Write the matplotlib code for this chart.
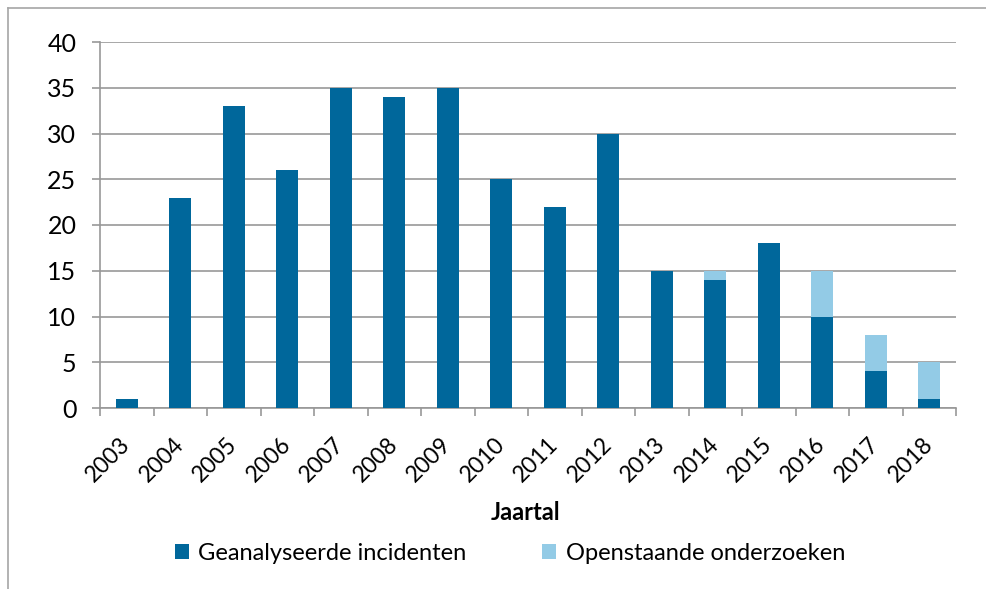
import matplotlib
matplotlib.use("Agg")
import matplotlib.pyplot as plt
from matplotlib.lines import Line2D
import numpy as np

years = ["2003", "2004", "2005", "2006", "2007", "2008", "2009", "2010",
         "2011", "2012", "2013", "2014", "2015", "2016", "2017", "2018"]
analysed = [1, 23, 33, 26, 35, 34, 35, 25, 22, 30, 15, 14, 18, 10, 4, 1]
open_cases = [0, 0, 0, 0, 0, 0, 0, 0, 0, 0, 0, 1, 0, 5, 4, 4]

dark = "#00679B"
light = "#93CBE6"
grey = "#989898"

plt.rcParams["font.family"] = ["Lato", "DejaVu Sans"]

fig = plt.figure(figsize=(9.87, 5.89), dpi=100)
ax = fig.add_axes([100 / 987, 1 - 408 / 589, 856 / 987, 366 / 589])

x = np.arange(len(years))
ax.bar(x, analysed, width=0.41, color=dark, zorder=3,
       label="Geanalyseerde incidenten")
ax.bar(x, open_cases, width=0.41, bottom=analysed, color=light, zorder=3,
       label="Openstaande onderzoeken")

ax.set_xlim(-0.5, len(years) - 0.5)
ax.set_ylim(0, 40)
ax.set_yticks(range(0, 41, 5))
ax.yaxis.grid(True, color=grey, linewidth=1.2, zorder=0)

ax.set_xticks(x)
ax.set_xticklabels(years, rotation=45, ha="right", va="center",
                   rotation_mode="anchor")
ax.set_xticks(np.arange(-0.5, len(years)), minor=True)
ax.tick_params(axis="x", which="major", length=0, pad=24, labelsize=16.5)
ax.tick_params(axis="x", which="minor", length=6, width=1.2, color=grey,
               direction="out")
ax.tick_params(axis="y", length=6, width=1.2, color=grey, pad=11,
               labelsize=18)

for side in ["top", "right"]:
    ax.spines[side].set_visible(False)
for side in ["left", "bottom"]:
    ax.spines[side].set_color(grey)
    ax.spines[side].set_linewidth(1.2)

fig.text(526 / 987, 1 - 513 / 589, "Jaartal", ha="center", va="center",
         fontsize=17, fontweight="bold")

fig.legend(loc="center", bbox_to_anchor=(510 / 987, 1 - 553 / 589), ncol=2,
           frameon=False, fontsize=17, handlelength=0.6, handleheight=0.6,
           handletextpad=0.4, columnspacing=3.2)

# outer chart frame (only left and top edges are inside the picture)
fig.add_artist(Line2D([8 / 987, 8 / 987], [0, 1 - 8 / 589],
                      transform=fig.transFigure, color="#A6A6A6", linewidth=1.2))
fig.add_artist(Line2D([8 / 987, 1], [1 - 8 / 589, 1 - 8 / 589],
                      transform=fig.transFigure, color="#A6A6A6", linewidth=1.2))

fig.savefig("out.png", dpi=100)
